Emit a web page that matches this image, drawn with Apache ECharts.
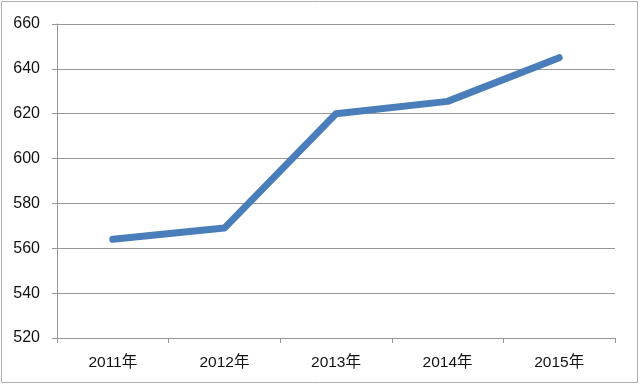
<!DOCTYPE html>
<html><head><meta charset="utf-8">
<script src="https://cdn.jsdelivr.net/npm/echarts@6/dist/echarts.min.js"></script>
<style>html,body{margin:0;padding:0;background:#fff}#c{width:640px;height:385px}</style>
</head><body><div id="c"></div>
<script>
const categories = ['2011年','2012年','2013年','2014年','2015年'];
const values = [564, 569, 620, 625.5, 645];
const yTicks = {min:520, max:660, interval:20};

const chart = echarts.init(document.getElementById('c'));
const axisColor = '#979797';
const font = '"Liberation Sans", "Noto Sans CJK SC", sans-serif';
chart.setOption({
  animation:false,
  graphic:[{type:'rect',shape:{x:1.5,y:1.5,width:636,height:381},style:{fill:'none',stroke:'#b0b0b0',lineWidth:1}}],
  grid:{left:57,right:25,top:24,bottom:47},
  xAxis:{type:'category',data:categories,boundaryGap:true,
    axisLine:{lineStyle:{color:axisColor,width:1}},
    axisTick:{show:true,length:5,lineStyle:{color:axisColor}},
    axisLabel:{color:'#111',fontSize:15.5,fontFamily:font,margin:17}},
  yAxis:{type:'value',min:yTicks.min,max:yTicks.max,interval:yTicks.interval,
    axisLine:{show:true,lineStyle:{color:axisColor,width:1}},
    axisTick:{show:true,length:5,lineStyle:{color:axisColor}},
    splitLine:{lineStyle:{color:axisColor,width:1}},
    axisLabel:{color:'#111',fontSize:16,fontFamily:font,margin:17}},
  series:[{type:'line',data:values,symbol:'none',
    lineStyle:{color:'#4a7ebb',width:7,cap:'round',join:'round'}}]
});
</script></body></html>
